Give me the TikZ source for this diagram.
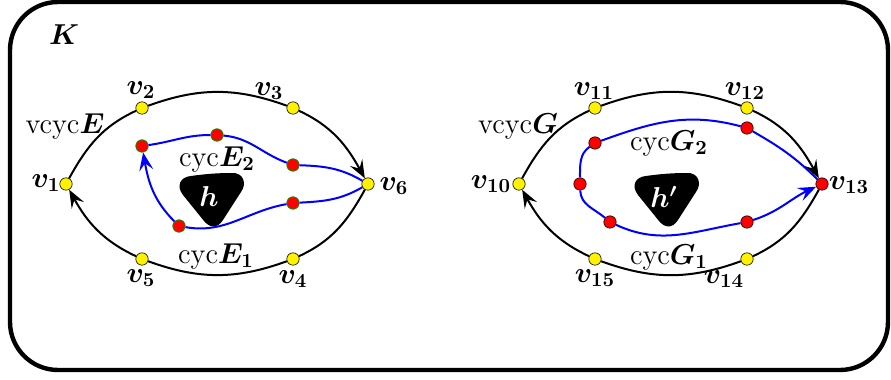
\documentclass[tikz,border=0pt]{standalone}
\usepackage{bm}
\usetikzlibrary{arrows.meta}
\newcommand{\bv}[1]{\bm{v}_{\bm{#1}}}
\tikzset{
  dot/.style={circle, inner sep=0pt, minimum size=6.2pt, draw=black, line width=0.3pt},
  ydot/.style={dot, fill=yellow},
  rdot/.style={dot, fill=red},
  rgdot/.style={dot, fill=red, draw=green!60!black, line width=0.4pt},
  lbl/.style={inner sep=0pt, font=\Large},
  blkline/.style={draw=black, line width=1pt},
  bpath/.style={draw=blue, line width=1pt},
  tip/.style={-{Stealth[length=9pt,width=7pt,inset=3.5pt]}},
}
\begin{document}
\begin{tikzpicture}[x=0.5pt,y=0.5pt]
\useasboundingbox (0,0) rectangle (891,380);
\draw[line width=2.2pt, rounded corners=24pt] (10,10) rectangle (888,378);
\node[lbl] (K) at (64,345) {$\bm{K}$};

% ---------- left graph ----------
\fill[black] (191,204) .. controls (205,206) and (218,207) .. (231,207)
  .. controls (244,208) and (247,196) .. (241,188) -- (223,160)
  .. controls (217,151) and (210,152) .. (204,159) -- (183,185)
  .. controls (176,194) and (180,203) .. (191,204) -- cycle;
\node[lbl, text=white] (h) at (209,183) {$\bm{h}$};

\node[ydot] (v1) at (66,196) {};
\node[ydot] (v2) at (142,272) {};
\node[ydot] (v3) at (293,272) {};
\node[ydot] (v6) at (368,196) {};
\node[ydot] (v4) at (293,121) {};
\node[ydot] (v5) at (142,121) {};

\node[rgdot] (e1) at (179,154) {};
\node[rgdot] (e2) at (142,234) {};
\node[rgdot] (e3) at (217,245) {};
\node[rgdot] (e4) at (293,215) {};
\node[rgdot] (e5) at (293,177) {};

\draw[blkline, tip] (v1) to[out=61,in=-155] (v2) to[out=20,in=160] (v3) to[out=-25,in=119] (v6);
\draw[blkline, tip] (v6) to[out=-119,in=25] (v4) to[out=-160,in=-20] (v5) to[out=155,in=-61] (v1);

\draw[bpath, tip] (e2) to[out=8,in=180] (e3) to[out=-5,in=160] (e4)
  to[out=-2,in=150] (v6) to[out=-150,in=3] (e5) to[out=190,in=-10] (e1)
  to[out=135,in=-80] (e2);

\node[lbl] (lv1) at (46,197) {$\bv{1}$};
\node[lbl] (lv2) at (141,290) {$\bv{2}$};
\node[lbl] (lv3) at (269,289) {$\bv{3}$};
\node[lbl] (lv6) at (394,194) {$\bv{6}$};
\node[lbl] (lv5) at (141,102) {$\bv{5}$};
\node[lbl] (lv4) at (293,101) {$\bv{4}$};
\node[lbl] (vcE) at (65,254) {$\mathrm{vcyc}\bm{E}$};
\node[lbl] (cE2) at (217,221) {$\mathrm{cyc}\bm{E_2}$};
\node[lbl] (cE1) at (216,124) {$\mathrm{cyc}\bm{E_1}$};

% ---------- right graph ----------
\begin{scope}[xshift=227.5pt]
\fill[black] (191,204) .. controls (205,206) and (218,207) .. (231,207)
  .. controls (244,208) and (247,196) .. (241,188) -- (223,160)
  .. controls (217,151) and (210,152) .. (204,159) -- (183,185)
  .. controls (176,194) and (180,203) .. (191,204) -- cycle;
\end{scope}
\node[lbl, text=white] (hp) at (664,183) {$\bm{h'}$};

\node[ydot] (v10) at (519,196) {};
\node[ydot] (v11) at (595,272) {};
\node[ydot] (v12) at (747,272) {};
\node[rdot] (v13) at (822,196) {};
\node[ydot] (v14) at (747,121) {};
\node[ydot] (v15) at (595,121) {};

\node[rdot] (g1) at (747,252) {};
\node[rdot] (g2) at (595,237) {};
\node[rdot] (g3) at (580,196) {};
\node[rdot] (g4) at (610,158) {};
\node[rdot] (g5) at (747,158) {};

\draw[blkline, tip] (v10) to[out=61,in=-155] (v11) to[out=20,in=160] (v12) to[out=-25,in=119] (v13);
\draw[blkline, tip] (v13) to[out=-119,in=25] (v14) to[out=-160,in=-20] (v15) to[out=155,in=-61] (v10);

\draw[bpath, tip] (v13) to[out=135,in=-30] (g1) to[out=165,in=20] (g2)
  to[out=215,in=90] (g3) to[out=-88,in=140] (g4) to[out=-25,in=190] (g5)
  to[out=18,in=205] (v13);

\node[lbl] (lv10) at (491,196) {$\bv{10}$};
\node[lbl] (lv11) at (594,289) {$\bv{11}$};
\node[lbl] (lv12) at (745,289) {$\bv{12}$};
\node[lbl] (lv13) at (849,195) {$\bv{13}$};
\node[lbl] (lv15) at (595,102) {$\bv{15}$};
\node[lbl] (lv14) at (724,101) {$\bv{14}$};
\node[lbl] (vcG) at (518,254) {$\mathrm{vcyc}\bm{G}$};
\node[lbl] (cG2) at (669,237) {$\mathrm{cyc}\bm{G_2}$};
\node[lbl] (cG1) at (669,123) {$\mathrm{cyc}\bm{G_1}$};
\end{tikzpicture}
\end{document}
